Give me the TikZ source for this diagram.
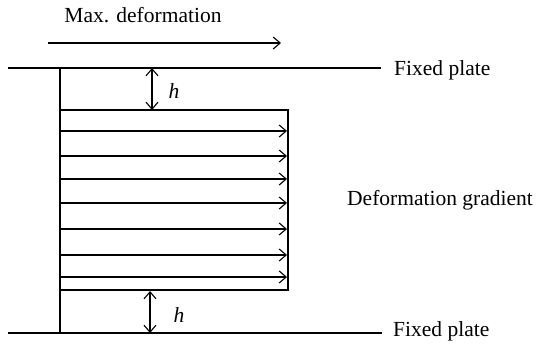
\documentclass[tikz,border=0pt]{standalone}
\usepackage{fontspec}
\setmainfont{Liberation Serif}
\usetikzlibrary{arrows.meta}
\tikzset{
  barb/.tip={Straight Barb[length=7pt,width=12pt,line width=1.1pt]},
  plate/.style={line width=1.1pt},
  flow/.style={line width=1.1pt,-barb},
  gap/.style={line width=1.1pt,barb-barb},
  lbl/.style={font=\fontsize{21.5}{25}\selectfont, inner sep=0pt},
}
\begin{document}
\begin{tikzpicture}[x=1pt,y=-1pt]
\useasboundingbox (0,0) rectangle (536,345);

% labels
\node[lbl] (maxdef) at (143,15) {Max. deformation};
\node[lbl,anchor=west] (toplbl) at (394,70) {Fixed plate};
\node[lbl,anchor=west] (botlbl) at (393,331) {Fixed plate};
\node[lbl,anchor=west] (gradlbl) at (347,200) {Deformation gradient};
\node[lbl] (htop) at (174,91) {\textit{h}};
\node[lbl] (hbot) at (179,315) {\textit{h}};

% plates and wall
\coordinate (tl) at (8,68);
\coordinate (tr) at (381,68);
\coordinate (bl) at (8,333);
\coordinate (br) at (382,333);
\coordinate (wt) at (60,68);
\coordinate (wb) at (60,333);
\draw[plate] (tl) -- (tr);
\draw[plate] (bl) -- (br);
\draw[plate] (wt) -- (wb);

% maximum deformation arrow
\coordinate (ma) at (48,43);
\coordinate (mb) at (281,43);
\draw[flow] (ma) -- (mb);

% deformed block
\coordinate (b1) at (60,110);
\coordinate (b2) at (288,110);
\coordinate (b3) at (288,290);
\coordinate (b4) at (60,290);
\draw[plate] (b1) -- (b2) -- (b3) -- (b4);

% velocity profile
\foreach \y in {131,156,179,203,229,255,277}{
  \coordinate (s\y) at (61,\y);
  \coordinate (e\y) at (287,\y);
  \draw[flow] (s\y) -- (e\y);
}

% gap heights
\coordinate (g1) at (152,68);
\coordinate (g2) at (152,110);
\coordinate (g3) at (150,291);
\coordinate (g4) at (150,333);
\draw[gap] (g1) -- (g2);
\draw[gap] (g3) -- (g4);
\end{tikzpicture}
\end{document}
